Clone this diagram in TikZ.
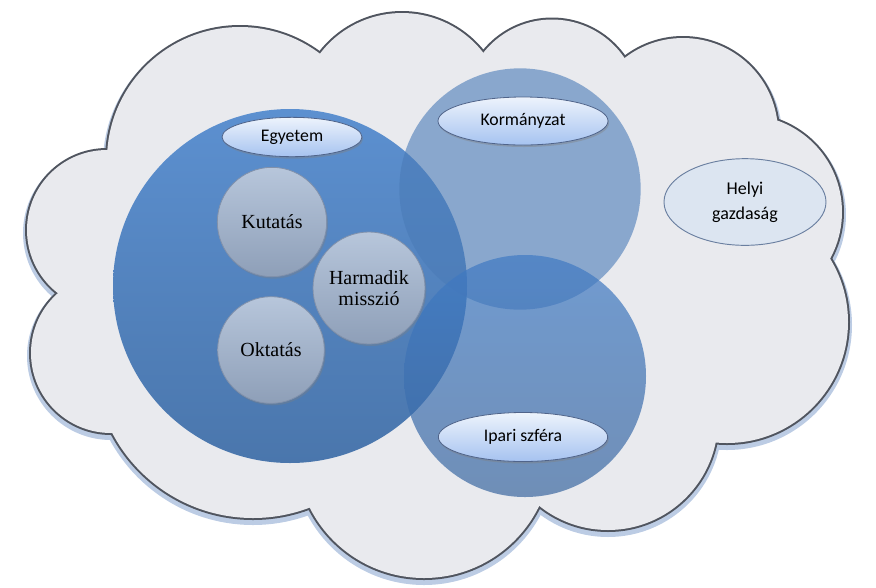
\documentclass[tikz,border=0pt]{standalone}
\usepackage{fontspec}
\setmainfont{Liberation Serif}
\newfontfamily\calibri{Carlito}
\usetikzlibrary{shapes.geometric, shadows}

\definecolor{cloudfill}{HTML}{E9EAEE}
\definecolor{cloudline}{HTML}{50555F}
\definecolor{cloudglow}{HTML}{BCCCE4}
\definecolor{univtop}{HTML}{5C90D0}
\definecolor{univbot}{HTML}{4A76AC}
\definecolor{govblue}{HTML}{4A7BB7}
\definecolor{indtop}{HTML}{3F7AC4}
\definecolor{indbot}{HTML}{3C68A0}
\definecolor{tasktop}{HTML}{B7C6DB}
\definecolor{taskbot}{HTML}{8E9FB8}
\definecolor{taskline}{HTML}{8191AB}
\definecolor{bubbletop}{HTML}{EDF3FC}
\definecolor{bubblebot}{HTML}{A6C3F0}
\definecolor{bubbleline}{HTML}{50648A}
\definecolor{localfill}{HTML}{DCE5F1}
\definecolor{localline}{HTML}{6A7FA0}

\tikzset{
  sphere/.style={circle, inner sep=0pt},
  task/.style={circle, inner sep=0pt, minimum size=82pt, top color=tasktop,
    bottom color=taskbot, draw=taskline, line width=0.6pt, align=center,
    drop shadow={shadow xshift=1pt, shadow yshift=-1.5pt, opacity=0.35},
    font=\fontsize{15}{16}\selectfont},
  bubble/.style={ellipse, inner sep=0pt, top color=bubbletop, bottom color=bubblebot,
    draw=bubbleline, line width=0.6pt,
    drop shadow={shadow xshift=0.8pt, shadow yshift=-1.5pt, opacity=0.4},
    font=\calibri\fontsize{13.3}{16}\selectfont}
}

\def\cloudpuffs{240/160/133, 402/116/103, 552/107/87.5, 683/133/95, 745/212/97,
  727/322/121, 608/420/110, 424/450/128, 253/359/159, 111/353/80, 107/230/80}

\begin{document}
\begin{tikzpicture}[x=0.75pt, y=-0.75pt]
\useasboundingbox (0,0) rectangle (876,587);

\foreach \cx/\cy/\r in \cloudpuffs
  \fill[cloudglow] (\cx,\cy+3) circle[radius=\r+4];
\foreach \cx/\cy/\r in \cloudpuffs
  \fill[cloudline] (\cx,\cy) circle[radius=\r+2];
\foreach \cx/\cy/\r in \cloudpuffs
  \fill[cloudfill] (\cx,\cy) circle[radius=\r];
\fill[cloudfill] (115,152) -- (320,57) -- (483,57) -- (622,62) -- (773,123) -- (825,259)
  -- (712,440) -- (538,501) -- (309,504) -- (115,430) -- (61,293) -- cycle;

\node[sphere, top color=univtop, bottom color=univbot, minimum size=265.5pt] (egyetem) at (290,286) {};
\node[sphere, fill=govblue, fill opacity=0.6, minimum size=181pt] (kormany) at (520,189) {};
\node[sphere, top color=indtop, bottom color=indbot, fill opacity=0.7, minimum size=181.5pt] (ipar) at (525,376) {};

\node[task] (kutatas) at (272,222) {Kutatás};
\node[task, minimum size=84pt] (misszio) at (369,288) {Harmadik\\misszió};
\node[task, minimum size=80pt] (oktatas) at (271,350) {Oktatás};

\node[bubble, minimum width=105pt, minimum height=29.5pt] (egyetemtag) at (292,137) {Egyetem};
\node[bubble, minimum width=127.5pt, minimum height=36pt] (kormanytag) at (523,121) {Kormányzat};
\node[bubble, minimum width=127pt, minimum height=36.75pt] (ipartag) at (523,437) {Ipari szféra};
\node[ellipse, inner sep=0pt, fill=localfill, draw=localline, line width=0.7pt,
  minimum width=121.5pt, minimum height=65pt, align=center,
  font=\calibri\fontsize{13.5}{18.75}\selectfont] (helyi) at (745,202) {Helyi\\gazdaság};
\end{tikzpicture}
\end{document}
